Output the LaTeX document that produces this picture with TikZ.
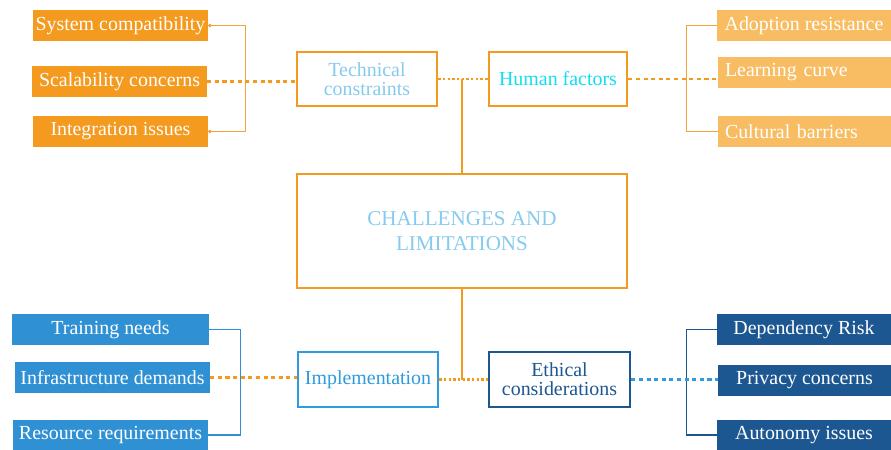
\documentclass[tikz,border=0pt]{standalone}
\usepackage{fontspec}
\setmainfont{Liberation Serif}
\newfontfamily\boxfont{Liberation Serif}
\usetikzlibrary{arrows.meta}

\definecolor{deeporange}{HTML}{F39A1F}
\definecolor{softorange}{HTML}{F8BD62}
\definecolor{lineorange}{HTML}{F0A63C}
\definecolor{midblue}{HTML}{2F90D4}
\definecolor{implblue}{HTML}{2D9BDD}
\definecolor{navyblue}{HTML}{1D5792}
\definecolor{paleblue}{HTML}{86CBEF}
\definecolor{brightcyan}{HTML}{12DDF2}

\tikzset{
  itembox/.style={inner sep=0pt, text=white, minimum height=0.93cm,
    font=\boxfont\fontsize{17}{17}\selectfont},
  leftitem/.style={itembox, align=left, inner xsep=0.21cm, text width=4.77cm},
  centerbox/.style={draw=deeporange, line width=2.2pt, fill=white, inner sep=0pt,
    minimum width=4.2cm, minimum height=1.62cm, align=center,
    font=\boxfont\fontsize{17}{16}\selectfont},
  bracket/.style={line width=1pt},
  thickdots/.style={deeporange, line width=2.4pt, dash pattern=on 3.5pt off 3pt},
  finedots/.style={deeporange, line width=1.8pt, dash pattern=on 2pt off 2pt}
}

\begin{document}
\begin{tikzpicture}[x=0.03cm, y=-0.03cm]
    \useasboundingbox (0,0) rectangle (891,450);

    % Draw the middle boxes
    \node[centerbox, text=paleblue] (techcon) at (367,79) {Technical\\constraints};
    \node[centerbox, text=brightcyan, minimum width=4.14cm] (human) at (558,79) {Human factors};
    \node[centerbox, text=paleblue, minimum width=9.9cm, minimum height=3.42cm,
      font=\boxfont\fontsize{18}{21}\selectfont] (challenges) at (462,231) {CHALLENGES AND\\LIMITATIONS};
    \node[centerbox, draw=implblue, text=implblue, minimum height=1.65cm] (implement) at (368,379.5) {Implementation};
    \node[centerbox, draw=navyblue, text=navyblue, minimum width=4.23cm, minimum height=1.65cm] (ethical) at (559.5,379.5) {Ethical\\considerations};

    % Draw the outer boxes
    \node[itembox, fill=deeporange, minimum width=5.25cm] (syscomp) at (120.5,25.5) {System compatibility};
    \node[itembox, fill=deeporange, minimum width=5.25cm] (scal) at (119.5,81.5) {Scalability concerns};
    \node[itembox, fill=deeporange, minimum width=5.25cm] (integ) at (120.5,131.5) {Integration issues};

    \node[itembox, fill=softorange, minimum width=5.22cm] (adopt) at (804,25.5) {Adoption resistance};
    \node[leftitem, fill=softorange] (learning) at (804.5,72.5) {Learning curve};
    \node[leftitem, fill=softorange] (cultural) at (804.5,131.5) {Cultural barriers};

    \node[itembox, fill=midblue, minimum width=5.91cm] (training) at (110.5,329.5) {Training needs};
    \node[itembox, fill=midblue, minimum width=5.85cm] (infra) at (112.5,377.5) {Infrastructure demands};
    \node[itembox, fill=midblue, minimum width=5.85cm, minimum height=0.9cm] (resource) at (110.5,435) {Resource requirements};

    \node[itembox, fill=navyblue, minimum width=5.22cm] (depend) at (804,329.5) {Dependency Risk};
    \node[itembox, fill=navyblue, minimum width=5.19cm] (privacy) at (804.5,380.5) {Privacy concerns};
    \node[itembox, fill=navyblue, minimum width=5.22cm, minimum height=0.9cm] (autonomy) at (804,435) {Autonomy issues};

    % Draw the brackets
    \draw[bracket, lineorange, {Circle[length=3pt]}-{Circle[length=3pt]}] (syscomp.east) -- ++(37,0) |- (integ.east);
    \draw[bracket, lineorange] (adopt.west) -- ++(-30,0) |- (cultural.west);
    \draw[bracket, midblue] (training.east) -- ++(31,0) |- (resource.east);
    \draw[bracket, navyblue] (depend.west) -- ++(-30,0) |- (autonomy.west);

    % Draw the dotted links
    \draw[thickdots] (scal.east) -- (scal.east -| techcon.west);
    \draw[thickdots] (human.east) -- (human.east -| learning.west);
    \draw[thickdots] (infra.east) -- (infra.east -| implement.west);
    \draw[thickdots, implblue] (ethical.east) -- (ethical.east -| privacy.west);
    \draw[finedots] (techcon.east) -- (human.west);
    \draw[finedots] (implement.east) -- (ethical.west);

    % Draw the trunk
    \draw[bracket, deeporange] (challenges.north) -- (challenges.north |- techcon.east);
    \draw[bracket, deeporange] (challenges.south) -- (challenges.south |- implement.east);
\end{tikzpicture}
\end{document}
